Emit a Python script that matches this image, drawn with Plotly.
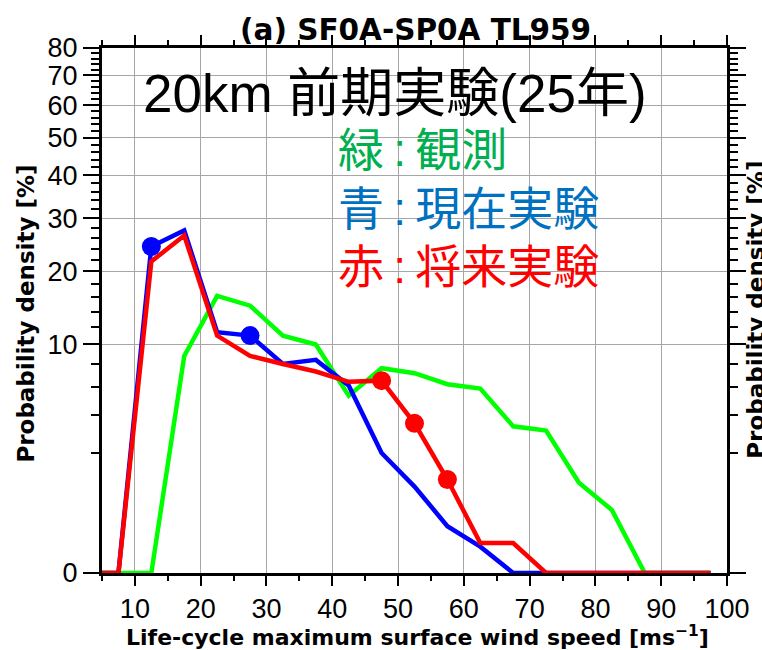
import plotly.graph_objects as go

# Bin centres of life-cycle maximum surface wind speed [m/s]
wind_speed = [2.5, 7.5, 12.5, 17.5, 22.5, 27.5, 32.5, 37.5, 42.5, 47.5,
              52.5, 57.5, 62.5, 67.5, 72.5, 77.5, 82.5, 87.5, 92.5, 97.5]

# Probability density [%] per bin
observed = [0, 0, 0, 8.8, 16.2, 14.8, 11.0, 10.0, 5.3, 7.6,
            7.15, 6.2, 5.85, 3.3, 3.07, 0.98, 0.40, 0, 0, 0]
present = [0, 0, 24.4, 27.5, 11.4, 11.0, 8.0, 8.4, 6.1, 2.0,
           0.88, 0.19, 0.045, 0, 0, 0, 0, 0, 0, 0]
future = [0, 0, 21.7, 26.5, 11.0, 8.8, 8.0, 7.3, 6.4, 6.5,
          3.47, 1.07, 0.062, 0.062, 0, 0, 0, 0, 0, 0]

# Bins highlighted with dots
present_dots = [12.5, 27.5]
future_dots = [47.5, 52.5, 57.5]

y_major = [0, 10, 20, 30, 40, 50, 60, 70, 80]
y_minor = [v for v in range(2, 80, 2) if v % 10]
x_major = [10, 20, 30, 40, 50, 60, 70, 80, 90, 100]
x_minor = [5, 15, 25, 35, 45, 55, 65, 75, 85, 95]

# Power-law stretched density axis
POWER = 0.4


def stretch(vals):
    return [v ** POWER for v in vals]


def pick(series, speeds):
    return [series[wind_speed.index(s)] for s in speeds]


GREEN, BLUE, RED = "#00ff00", "#0000ff", "#ff0000"
SANS = "Liberation Sans, Arial, sans-serif"
BOLD = "DejaVu Sans, Liberation Sans, sans-serif"
JP = "Liberation Sans, Noto Sans CJK JP, sans-serif"

fig = go.Figure()
for vals, col in [(observed, GREEN), (present, BLUE), (future, RED)]:
    fig.add_trace(go.Scatter(x=wind_speed, y=stretch(vals), mode="lines",
                             line=dict(color=col, width=4.5)))
fig.add_trace(go.Scatter(x=present_dots, y=stretch(pick(present, present_dots)),
                         mode="markers", marker=dict(color=BLUE, size=19)))
fig.add_trace(go.Scatter(x=future_dots, y=stretch(pick(future, future_dots)),
                         mode="markers", marker=dict(color=RED, size=19)))

axis_common = dict(
    ticks="outside", tickcolor="black", tickwidth=1.5,
    showline=True, linecolor="black", linewidth=3, mirror="allticks",
    showgrid=True, gridcolor="#a6a6a6", gridwidth=1, zeroline=False,
    tickfont=dict(family=SANS, size=27, color="black"),
    layer="below traces",
)

fig.update_layout(
    width=762, height=650,
    margin=dict(l=102, r=30, t=48, b=77),
    paper_bgcolor="white", plot_bgcolor="white",
    showlegend=False,
    xaxis=dict(range=[5, 100], tickmode="array", tickvals=x_major,
               ticktext=[str(v) for v in x_major], ticklen=10,
               minor=dict(tickmode="array", tickvals=x_minor, ticks="outside",
                          ticklen=5, tickcolor="black", tickwidth=1.5,
                          showgrid=False),
               **axis_common),
    yaxis=dict(range=[0, 80 ** POWER], tickmode="array",
               tickvals=stretch(y_major), ticktext=[str(v) for v in y_major],
               ticklen=16,
               minor=dict(tickmode="array", tickvals=stretch(y_minor),
                          ticks="outside", ticklen=8, tickcolor="black",
                          tickwidth=1.5, showgrid=False),
               **axis_common),
)


def px_x(p):
    return (p - 102) / 630


def px_y(p):
    return (573 - p) / 525


annotations = [
    dict(text="<b>(a) SF0A-SP0A TL959</b>", x=px_x(418), y=px_y(30),
         font=dict(family=BOLD, size=29.5, color="black")),
    dict(text="<b>Life-cycle maximum surface wind speed [ms<sup>−1</sup>]</b>",
         x=px_x(420), y=px_y(636),
         font=dict(family=BOLD, size=22, color="black")),
    dict(text="<b>Probability density [%]</b>", x=px_x(25), y=px_y(314),
         textangle=-90, font=dict(family=BOLD, size=23, color="black")),
    dict(text="<b>Probability density [%]</b>", x=px_x(761), y=px_y(310),
         textangle=-90, font=dict(family=BOLD, size=23, color="black")),
    dict(text="20km 前期実験(25年)", x=px_x(141), y=px_y(93), xanchor="left",
         font=dict(family=JP, size=53, color="black")),
    dict(text="緑\u2009:\u2009観測", x=px_x(338), y=px_y(150), xanchor="left",
         font=dict(family=JP, size=46, color="#00b050")),
    dict(text="青\u2009:\u2009現在実験", x=px_x(338), y=px_y(209), xanchor="left",
         font=dict(family=JP, size=46, color="#0070c0")),
    dict(text="赤\u2009:\u2009将来実験", x=px_x(338), y=px_y(267), xanchor="left",
         font=dict(family=JP, size=46, color="#ff0000")),
]
for a in annotations:
    a.setdefault("xanchor", "center")
    a.update(xref="paper", yref="paper", yanchor="middle", showarrow=False)
fig.update_layout(annotations=annotations)

fig.write_html("out.html")
